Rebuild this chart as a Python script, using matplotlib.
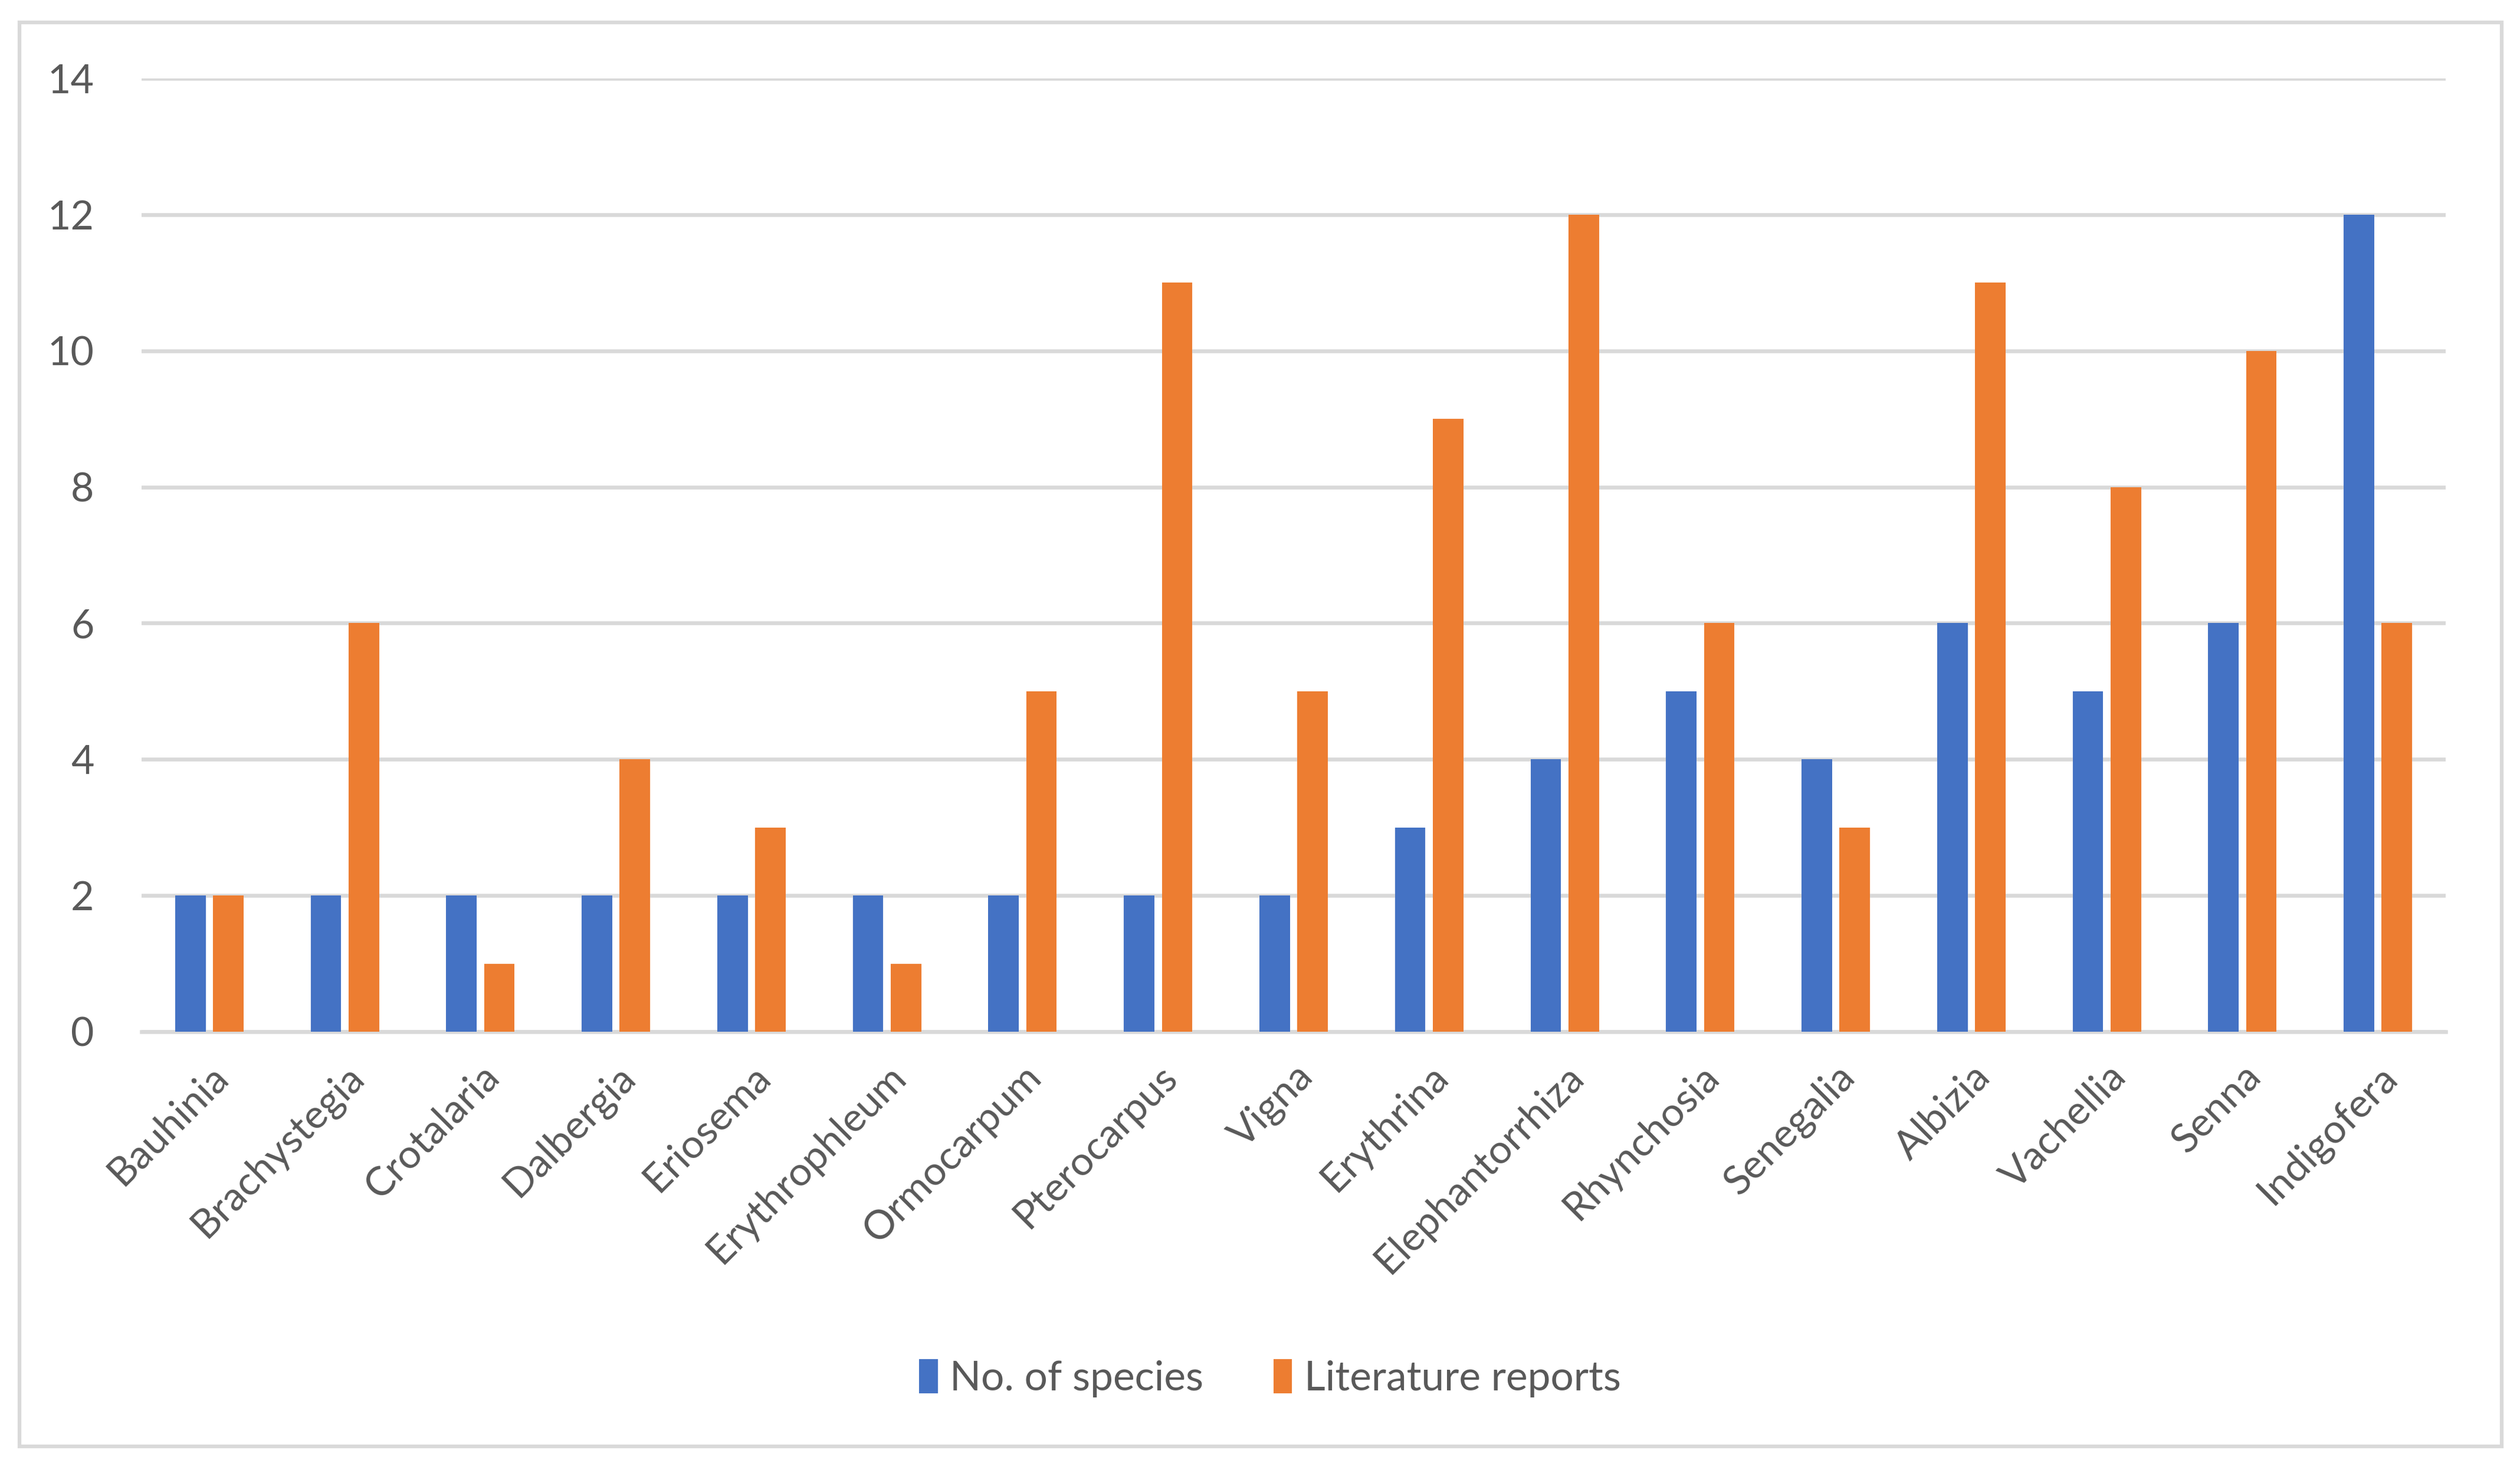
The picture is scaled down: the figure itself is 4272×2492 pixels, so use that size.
import matplotlib.pyplot as plt
from matplotlib.patches import Rectangle
import numpy as np

genera = ["Bauhinia", "Brachystegia", "Crotalaria", "Dalbergia", "Eriosema",
          "Erythrophleum", "Ormocarpum", "Pterocarpus", "Vigna", "Erythrina",
          "Elephantorrhiza", "Rhynchosia", "Senegalia", "Albizia", "Vachellia",
          "Senna", "Indigofera"]
n_species = [2, 2, 2, 2, 2, 2, 2, 2, 2, 3, 4, 5, 4, 6, 5, 6, 12]
lit_reports = [2, 6, 1, 4, 3, 1, 5, 11, 5, 9, 12, 6, 3, 11, 8, 10, 6]
y_ticks = [0, 2, 4, 6, 8, 10, 12, 14]

plt.rcParams['font.family'] = ['Lato', 'DejaVu Sans']
text_col = "#595959"
grid_col = "#D9D9D9"

W, H = 4272, 2492
fig = plt.figure(figsize=(W / 100, H / 100), dpi=100)

# outer chart border
fig.patches.append(Rectangle((33 / W, 1 - 2452 / H), (4241 - 33) / W, (2452 - 38) / H,
                             transform=fig.transFigure, fill=False,
                             edgecolor=grid_col, linewidth=4.5))

ax = fig.add_axes([240 / W, 1 - 1749 / H, (4146 - 240) / W, (1749 - 133) / H])

x = np.arange(len(genera))
bw = 0.225
off = 0.14
ax.bar(x - off, n_species, bw, color="#4472C4", label="No. of species", zorder=3)
ax.bar(x + off, lit_reports, bw, color="#ED7D31", label="Literature reports", zorder=3)

ax.set_xlim(-0.5, len(genera) - 0.5)
ax.set_ylim(0, 14)
ax.set_yticks(y_ticks)
ax.yaxis.grid(True, color=grid_col, linewidth=4.7, zorder=0)
ax.set_axisbelow(True)
for s in ["top", "right", "left"]:
    ax.spines[s].set_visible(False)
ax.spines["bottom"].set_color(grid_col)
ax.spines["bottom"].set_linewidth(4.7)

ax.tick_params(axis="both", length=0, labelsize=49, colors=text_col)
ax.tick_params(axis="y", pad=58)
ax.set_xticks(x)
ax.set_xticklabels(genera, rotation=45, ha="right", rotation_mode="anchor")
ax.tick_params(axis="x", pad=32)

fig.legend(loc="center", bbox_to_anchor=(0.504, 1 - 855 / 912), ncol=2,
           frameon=False, fontsize=50, labelcolor=text_col,
           handlelength=0.45, handleheight=0.9, handletextpad=0.3, columnspacing=1.7)

fig.savefig("out.png", dpi=100)
